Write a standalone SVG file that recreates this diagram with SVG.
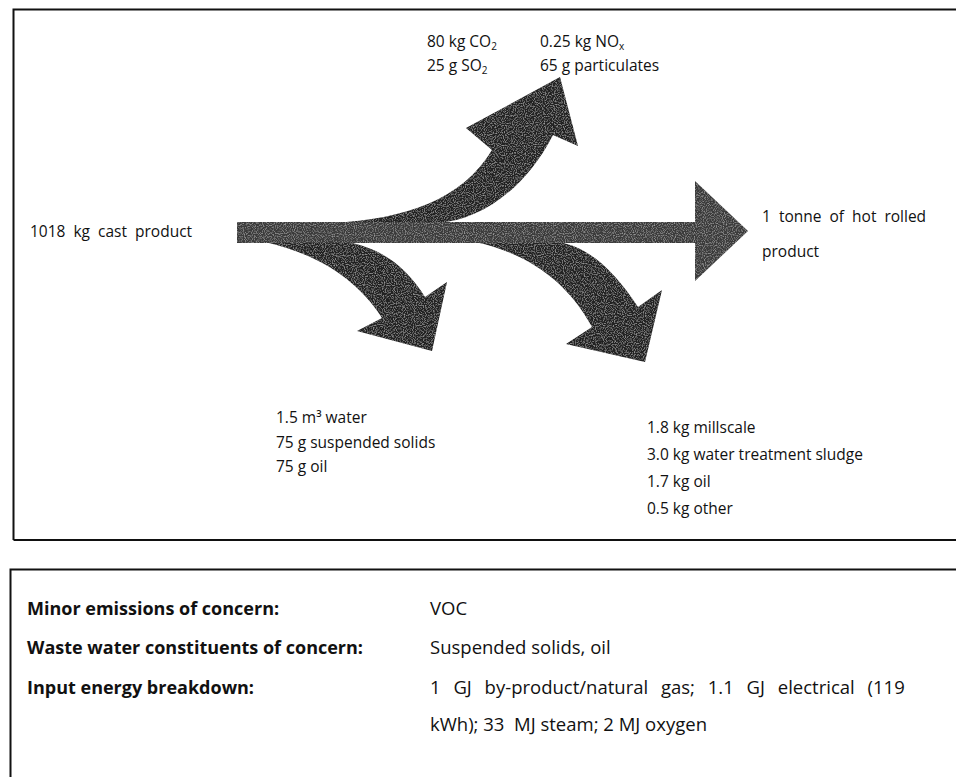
<svg xmlns="http://www.w3.org/2000/svg" width="956" height="777" viewBox="0 0 956 777">
  <defs>
    <style>
      .t { font-family: "Open Sans", "Noto Sans", "Liberation Sans", sans-serif; font-size: 15.5px; fill: #111; }
      .b { font-family: "Open Sans", "Noto Sans", "Liberation Sans", sans-serif; font-size: 18px; font-weight: bold; fill: #111; }
      .v { font-family: "Open Sans", "Noto Sans", "Liberation Sans", sans-serif; font-size: 18.5px; fill: #111; }
      .frame { fill: none; stroke: #111; stroke-width: 2; }
      .bar { fill: #3a3a3a; }
      .branch { fill: #202020; }
    </style>
    <!-- halftone-like speckle for the flow arrows -->
    <filter id="grain" x="0" y="0" width="100%" height="100%">
      <feTurbulence type="fractalNoise" baseFrequency="0.9" numOctaves="1" seed="3" result="n"/>
      <feColorMatrix in="n" type="matrix" values="0 0 0 0 0.55  0 0 0 0 0.55  0 0 0 0 0.55  0 0 0 1.6 -0.75" result="dots"/>
      <feComposite in="dots" in2="SourceGraphic" operator="in" result="d"/>
      <feMerge><feMergeNode in="SourceGraphic"/><feMergeNode in="d"/></feMerge>
    </filter>
  </defs>

  <rect width="956" height="777" fill="#fff"/>

  <!-- panel frames -->
  <g id="frames">
    <path class="frame" d="M13.5 540 V9.5 H956"/>
    <path class="frame" d="M13.5 540 H956"/>
    <path class="frame" d="M10.5 777 V569.5 H956"/>
  </g>

  <!-- flow arrows -->
  <g id="connectors" filter="url(#grain)">
    <!-- upward branch: air emissions -->
    <path class="branch" d="M333 223 C405 219 462 200 492 150 L466 128 L560 77 L578 146 L553 135 C525 190 480 220 438 223 Z"/>
    <!-- first downward branch: waste water -->
    <path class="branch" d="M265 242 C310 252 355 275 382 318 L357 331 L432 351 L447 282 L425 297 C405 265 380 248 347 242 Z"/>
    <!-- second downward branch: solid residues -->
    <path class="branch" d="M475 242 C522 252 565 277 592 327 L566 344 L645 362 L662 290 L638 307 C617 275 592 248 559 242 Z"/>
    <!-- main product flow -->
    <path class="bar" d="M237 222 H695 V181 L748 231 L695 281 V243 H237 Z"/>
  </g>

  <g id="input">
    <text class="t" x="30" y="237" word-spacing="4">1018 kg cast product</text>
  </g>

  <g id="air-emissions">
    <text class="t" x="427" y="47">80 kg CO<tspan font-size="10" dy="3">2</tspan></text>
    <text class="t" x="540" y="47">0.25 kg NO<tspan font-size="10" dy="3">x</tspan></text>
    <text class="t" x="427" y="71">25 g SO<tspan font-size="10" dy="3">2</tspan></text>
    <text class="t" x="540" y="71">65 g particulates</text>
  </g>

  <g id="product">
    <text class="t" x="762" y="222" word-spacing="4">1 tonne of hot rolled</text>
    <text class="t" x="762" y="257">product</text>
  </g>

  <g id="waste-water">
    <text class="t" x="276" y="423">1.5 m³ water</text>
    <text class="t" x="276" y="448">75 g suspended solids</text>
    <text class="t" x="276" y="472">75 g oil</text>
  </g>

  <g id="solid-residues">
    <text class="t" x="647" y="433">1.8 kg millscale</text>
    <text class="t" x="647" y="460">3.0 kg water treatment sludge</text>
    <text class="t" x="647" y="487">1.7 kg oil</text>
    <text class="t" x="647" y="514">0.5 kg other</text>
  </g>

  <g id="notes">
    <text class="b" x="27" y="615">Minor emissions of concern:</text>
    <text class="v" x="430" y="615">VOC</text>
    <text class="b" x="27" y="654">Waste water constituents of concern:</text>
    <text class="v" x="430" y="654">Suspended solids, oil</text>
    <text class="b" x="27" y="694">Input energy breakdown:</text>
    <text class="v" x="430" y="694" word-spacing="8">1 GJ by-product/natural gas; 1.1 GJ electrical (119</text>
    <text class="v" x="430" y="731" xml:space="preserve">kWh); 33  MJ steam; 2 MJ oxygen</text>
  </g>
</svg>
